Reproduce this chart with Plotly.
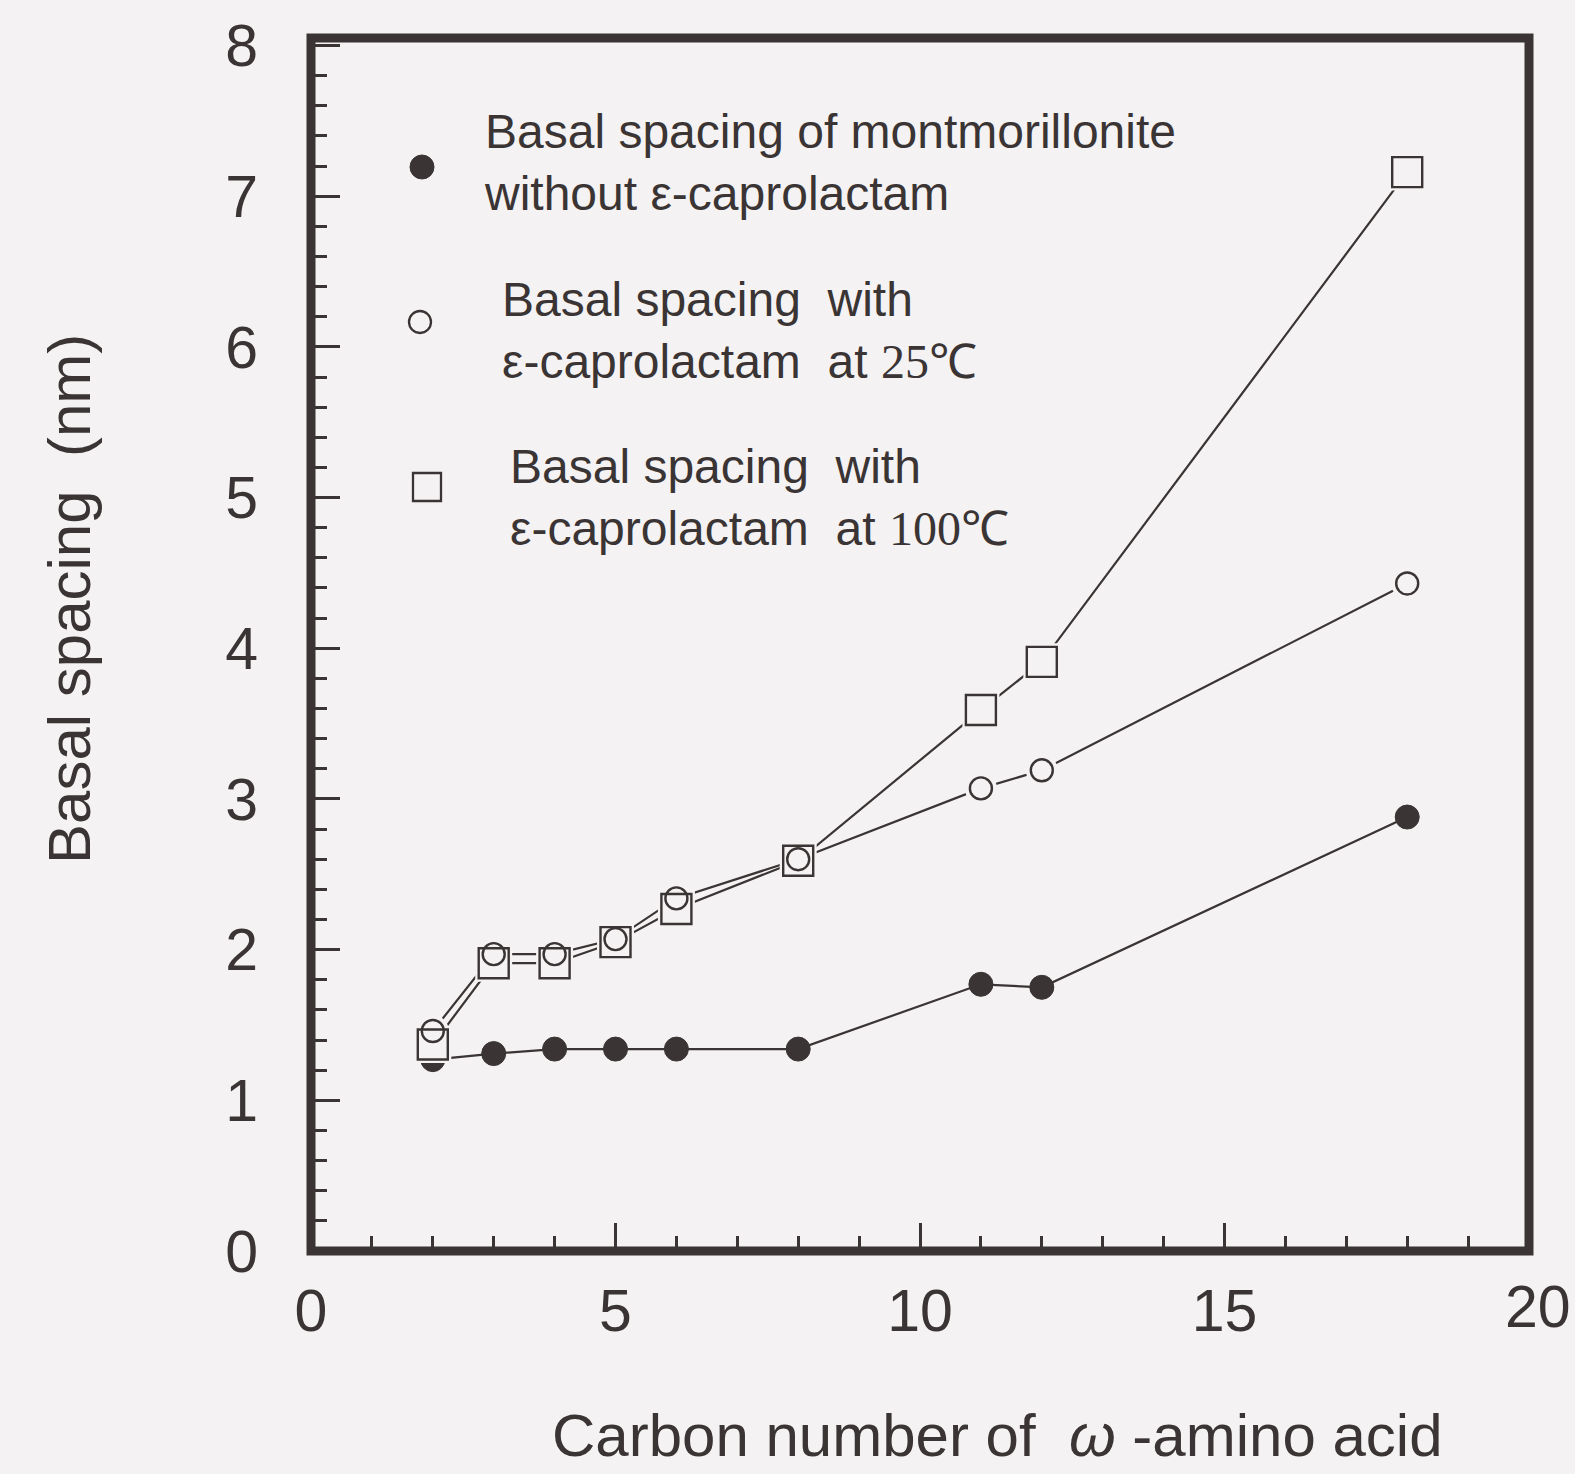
import plotly.graph_objects as go

# Carbon number of the omega-amino acid used for the organophilic clay
carbon = [2, 3, 4, 5, 6, 8, 11, 12, 18]

# Basal spacing (nm)
without_cl = [1.27, 1.31, 1.34, 1.34, 1.34, 1.34, 1.77, 1.75, 2.88]
with_cl_25 = [1.46, 1.97, 1.97, 2.07, 2.34, 2.60, 3.07, 3.19, 4.43]
with_cl_100 = [1.37, 1.91, 1.91, 2.05, 2.27, 2.59, 3.59, 3.91, 7.16]

legend_texts = [
    "Basal spacing of montmorillonite<br>without \u03b5-caprolactam",
    "Basal spacing\u00a0 with<br>\u03b5-caprolactam\u00a0 at "
    "<span style='font-family:Liberation Serif'>25\u2103</span>",
    "Basal spacing\u00a0 with<br>\u03b5-caprolactam\u00a0 at "
    "<span style='font-family:Liberation Serif'>100\u2103</span>",
]

x_ticks = [0, 5, 10, 15, 20]
x_ticktext = ["0", "5", "10", "15", ""]
y_ticks = [0, 1, 2, 3, 4, 5, 6, 7, 8]

INK = "#3a3434"
BG = "#f4f2f2"
FONT = "Liberation Sans, Arial, sans-serif"

W, H = 1575, 1474
L, R, T, B = 311, 1529, 38, 1251


def px(xp):
    return (xp - L) / (R - L)


def py(yp):
    return (B - yp) / (B - T)


fig = go.Figure()

# connecting lines
for ys in (without_cl, with_cl_25, with_cl_100):
    fig.add_trace(go.Scatter(x=carbon, y=ys, mode="lines",
                             line=dict(color=INK, width=2.2),
                             showlegend=False, hoverinfo="skip"))

# solid circles
fig.add_trace(go.Scatter(x=carbon, y=without_cl, mode="markers",
                         marker=dict(symbol="circle", size=24, color=INK,
                                     line=dict(color=INK, width=1)),
                         showlegend=False))

# background knock-outs so lines stop short of the open symbols
fig.add_trace(go.Scatter(x=carbon, y=with_cl_100, mode="markers",
                         marker=dict(symbol="square", size=37, color=BG,
                                     line=dict(width=0)),
                         showlegend=False, hoverinfo="skip"))
fig.add_trace(go.Scatter(x=carbon, y=with_cl_25, mode="markers",
                         marker=dict(symbol="circle", size=32, color=BG,
                                     line=dict(width=0)),
                         showlegend=False, hoverinfo="skip"))

# open squares and open circles
fig.add_trace(go.Scatter(x=carbon, y=with_cl_100, mode="markers",
                         marker=dict(symbol="square-open", size=30, color=INK,
                                     line=dict(color=INK, width=2.4)),
                         showlegend=False))
fig.add_trace(go.Scatter(x=carbon, y=with_cl_25, mode="markers",
                         marker=dict(symbol="circle-open", size=22, color=INK,
                                     line=dict(color=INK, width=2.4)),
                         showlegend=False))

shapes = []
# plot frame
shapes.append(dict(type="rect", xref="paper", yref="paper", x0=0, x1=1, y0=0, y1=1,
                   line=dict(color=INK, width=9), layer="above"))

# legend symbols
shapes.append(dict(type="circle", xref="paper", yref="paper",
                   xsizemode="pixel", ysizemode="pixel",
                   xanchor=px(422), yanchor=py(167),
                   x0=-12, x1=12, y0=-12, y1=12,
                   fillcolor=INK, line=dict(color=INK, width=1)))
shapes.append(dict(type="circle", xref="paper", yref="paper",
                   xsizemode="pixel", ysizemode="pixel",
                   xanchor=px(420), yanchor=py(322),
                   x0=-11, x1=11, y0=-11, y1=11,
                   line=dict(color=INK, width=2.3)))
shapes.append(dict(type="rect", xref="paper", yref="paper",
                   xsizemode="pixel", ysizemode="pixel",
                   xanchor=px(427), yanchor=py(487),
                   x0=-14, x1=14, y0=-14, y1=14,
                   line=dict(color=INK, width=2.3)))

annotations = []
legend_pos = [(482, 163), (500, 330), (508, 497)]
for (xp, yp), txt in zip(legend_pos, legend_texts):
    annotations.append(dict(xref="paper", yref="paper", x=px(xp), y=py(yp),
                            xanchor="left", yanchor="middle", align="left",
                            showarrow=False, text=txt,
                            font=dict(family=FONT, size=48, color=INK)))

# axis titles
annotations.append(dict(xref="paper", yref="paper", x=px(997), y=py(1435),
                        xanchor="center", yanchor="middle", showarrow=False,
                        text="Carbon number of\u00a0 <i>\u03c9</i>\u00a0-amino acid",
                        font=dict(family=FONT, size=60, color=INK)))
annotations.append(dict(xref="paper", yref="paper", x=px(69), y=py(599),
                        xanchor="center", yanchor="middle", showarrow=False,
                        textangle=-90, text="Basal spacing\u00a0 (nm)",
                        font=dict(family=FONT, size=60, color=INK)))
# last x tick label sits just past the frame, kept inside the page
annotations.append(dict(xref="paper", yref="paper", x=px(1573), y=py(1307),
                        xanchor="right", yanchor="middle", showarrow=False,
                        text="20",
                        font=dict(family=FONT, size=59, color=INK)))

fig.update_layout(
    width=W, height=H, autosize=False,
    margin=dict(l=L, r=W - R, t=T, b=H - B, pad=0),
    paper_bgcolor=BG, plot_bgcolor=BG,
    showlegend=False,
    shapes=shapes, annotations=annotations,
    font=dict(family=FONT, color=INK),
)

fig.update_xaxes(range=[0, 20], showgrid=False, zeroline=False, showline=False,
                 tickvals=x_ticks, ticktext=x_ticktext,
                 ticks="inside", ticklen=28, tickwidth=2.5, tickcolor=INK,
                 tickfont=dict(family=FONT, size=59, color=INK),
                 ticklabelstandoff=20,
                 minor=dict(dtick=1, ticks="inside", ticklen=15, tickwidth=2.5,
                            tickcolor=INK, showgrid=False))
fig.update_yaxes(range=[0, 8.05], showgrid=False, zeroline=False, showline=False,
                 tickvals=y_ticks,
                 ticks="inside", ticklen=29, tickwidth=2.5, tickcolor=INK,
                 tickfont=dict(family=FONT, size=59, color=INK),
                 ticklabelstandoff=52,
                 minor=dict(dtick=0.2, ticks="inside", ticklen=16, tickwidth=2.5,
                            tickcolor=INK, showgrid=False))

fig.write_html("out.html")
